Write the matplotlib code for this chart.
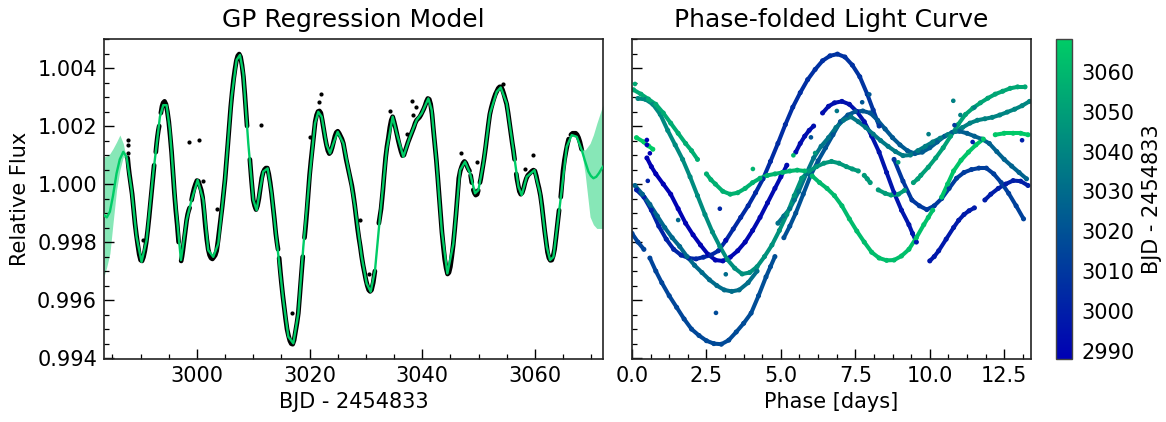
import numpy as np
import matplotlib
matplotlib.use("Agg")
import matplotlib.pyplot as plt
from matplotlib.collections import LineCollection
from matplotlib.colors import LinearSegmentedColormap, Normalize
from matplotlib.cm import ScalarMappable
from matplotlib.ticker import AutoMinorLocator, MultipleLocator, FormatStrFormatter

nan = float("nan")
GREEN = "#00cc66"
PERIOD = 13.4
T0 = 2987.2

gp_t = [2983.48, 2984.00, 2984.55, 2985.10, 2985.73, 2986.30, 2986.92, 2987.51, 2988.40, 2989.28, 2990.17, 2991.06, 2992.24,
        2993.43, 2994.02, 2994.61, 2995.20, 2996.09, 2997.16, 2998.17, 2999.05, 3000.12, 3001.13,
        3002.01, 3002.90, 3003.79, 3004.98, 3006.16, 3007.05, 3007.64, 3008.23, 3009.12, 3010.01,
        3010.60, 3011.19, 3011.78, 3012.55, 3013.26, 3014.15, 3015.34, 3016.23, 3017.11, 3018.00,
        3018.89, 3020.07, 3020.96, 3021.55, 3022.15, 3023.03, 3023.63, 3024.22, 3024.99, 3026.00,
        3027.18, 3028.07, 3029.25, 3030.14, 3030.85, 3031.62, 3032.50, 3033.69, 3034.75, 3035.47,
        3036.65, 3037.83, 3039.02, 3039.91, 3041.09, 3041.68, 3042.57, 3043.46, 3044.47, 3045.53,
        3046.72, 3047.60, 3048.49, 3049.38, 3049.97, 3050.86, 3052.04, 3053.23, 3053.94, 3055.00,
        3056.19, 3057.08, 3057.67, 3058.56, 3059.92, 3060.93, 3062.11, 3062.70, 3063.30, 3064.48,
        3065.66, 3066.55, 3067.44, 3068.33, 3068.90, 3069.51, 3069.95, 3070.40, 3070.90, 3071.40, 3071.88, 3072.10]
gp_f = [0.99893, 0.99885, 0.99905, 0.99960, 1.00037, 1.00085, 1.00111, 1.00094, 0.99979, 0.99818, 0.99732, 0.99807, 1.00037,
        1.00232, 1.00272, 1.00272, 1.00186, 0.99956, 0.99738, 0.99876, 0.99945, 1.00014, 0.99945,
        0.99772, 0.99749, 0.99795, 1.00014, 1.00301, 1.00428, 1.00445, 1.00382, 1.00140, 0.99945,
        0.99910, 0.99979, 1.00043, 1.00054, 0.99968, 0.99807, 0.99600, 0.99474, 0.99451, 0.99554,
        0.99784, 1.00037, 1.00209, 1.00249, 1.00232, 1.00134, 1.00106, 1.00140, 1.00180, 1.00140,
        1.00025, 0.99922, 0.99749, 0.99657, 0.99629, 0.99703, 0.99887, 1.00117, 1.00232, 1.00175,
        1.00094, 1.00163, 1.00221, 1.00244, 1.00295, 1.00255, 1.00071, 0.99841, 0.99692, 0.99795,
        1.00048, 1.00077, 1.00037, 0.99968, 0.99979, 1.00071, 1.00244, 1.00318, 1.00333, 1.00278,
        1.00117, 0.99991, 0.99962, 1.00025, 1.00048, 0.99968, 0.99784, 0.99738, 0.99749, 0.99933,
        1.00129, 1.00169, 1.00163, 1.00117, 1.00080, 1.00043, 1.00028, 1.00020, 1.00025, 1.00038, 1.00054, 1.00060]

band_left_t = [2983.48, 2984.00, 2984.55, 2985.10, 2985.73, 2986.32, 2986.92, 2987.40, 2988.10]
band_left_hi = [1.00094, 1.00097, 1.00105, 1.00122, 1.00145, 1.00169, 1.00140, 1.00095, 0.99990]
band_left_lo = [0.99680, 0.99715, 0.99761, 0.99865, 0.99979, 1.00048, 1.00094, 1.00085, 0.99975]
band_right_t = [3068.33, 3068.92, 3069.80, 3070.40, 3071.00, 3071.88, 3072.10]
band_right_hi = [1.00125, 1.00117, 1.00140, 1.00170, 1.00209, 1.00261, 1.00272]
band_right_lo = [1.00110, 1.00037, 0.99887, 0.99860, 0.99847, 0.99847, 0.99847]

obs_t = [2987.7, 2988.0, 2988.5, 2989.0, 2989.5, 2990.0, 2990.5, 2991.0, 2991.5, 2992.0,
         2992.4, 2992.55, 2992.7, 2993.0, 2993.3, 2993.45, 2993.6, 2994.0, 2994.5, 2995.0,
         2995.5, 2996.0, 2996.5, 2996.75, 2997.0, 2997.2, 2997.5, 2998.0, 2998.35, 2998.7,
         2998.9, 2999.05, 2999.5, 3000.0, 3000.5, 3001.0, 3001.5, 3002.0, 3002.5, 3003.0,
         3003.5, 3004.0, 3004.5, 3005.0, 3005.5, 3006.0, 3006.5, 3007.0, 3007.5, 3008.0,
         3008.5, 3008.9, 3009.15, 3009.4, 3010.0, 3010.5, 3011.0, 3011.5, 3012.0, 3012.5,
         3013.0, 3013.5, 3014.0, 3014.4, 3014.45, 3014.6, 3015.0, 3015.5, 3016.0, 3016.5,
         3017.0, 3017.5, 3018.0, 3018.5, 3018.8, 3018.95, 3019.1, 3019.5, 3020.0, 3020.5,
         3021.0, 3021.5, 3022.0, 3022.5, 3023.0, 3023.5, 3024.0, 3024.5, 3025.0, 3025.5,
         3026.0, 3026.5, 3027.0, 3027.5, 3028.0, 3028.5, 3029.0, 3029.5, 3030.0, 3030.5,
         3031.0, 3031.6, 3031.95, 3032.3, 3032.7, 3033.0, 3033.5, 3034.0, 3034.5, 3035.0,
         3035.5, 3036.0, 3036.5, 3037.0, 3037.5, 3038.0, 3038.5, 3039.0, 3039.5, 3040.0,
         3040.5, 3041.0, 3041.5, 3042.0, 3042.5, 3043.0, 3043.5, 3044.0, 3044.5, 3045.0,
         3045.5, 3046.0, 3046.5, 3047.0, 3047.5, 3048.0, 3048.4, 3048.5, 3048.6, 3048.8,
         3048.95, 3049.07, 3049.5, 3049.95, 3050.1, 3050.25, 3050.5, 3051.0, 3051.5, 3052.0,
         3052.5, 3053.0, 3053.5, 3054.0, 3054.5, 3055.0, 3055.5, 3056.0, 3056.4, 3056.55,
         3056.7, 3057.0, 3057.5, 3058.0, 3058.5, 3059.0, 3059.5, 3060.0, 3060.5, 3061.0,
         3061.5, 3062.0, 3062.5, 3063.0, 3063.5, 3064.0, 3064.3, 3064.45, 3064.6, 3065.0,
         3065.5, 3066.0, 3066.2, 3066.4, 3067.0, 3067.5, 3068.0, 3068.3]
obs_f = [1.00090, 1.00035, 0.99965, 0.99865, 0.99790, 0.99738, 0.99748, 0.99800, 0.99885, 0.99985,
         1.00065, nan, 1.00110, 1.00165, 1.00200, nan, 1.00245, 1.00280, 1.00275, 1.00215,
         1.00110, 0.99970, 0.99860, 0.99800, nan, 0.99735, 0.99770, 0.99850, 0.99895, 0.99918,
         nan, 0.99945, 0.99985, 1.00012, 0.99995, 0.99955, 0.99855, 0.99775, 0.99745, 0.99748,
         0.99770, 0.99845, 0.99925, 1.00018, 1.00140, 1.00265, 1.00360, 1.00425, 1.00448, 1.00410,
         1.00310, 1.00200, nan, 1.00085, 0.99945, 0.99912, 0.99950, 1.00020, 1.00050, 1.00055,
         1.00005, 0.99925, 0.99830, 0.99775, nan, 0.99745, 0.99660, 0.99575, 0.99500, 0.99460,
         0.99448, 0.99490, 0.99555, 0.99680, 0.99750, nan, 0.99815, 0.99900, 1.00030, 1.00125,
         1.00215, 1.00250, 1.00245, 1.00190, 1.00135, 1.00105, 1.00125, 1.00165, 1.00182, 1.00165,
         1.00140, 1.00085, 1.00040, 0.99995, 0.99930, 0.99850, 0.99785, 0.99720, 0.99670, 0.99635,
         0.99635, 0.99700, nan, 0.99865, 0.99915, 0.99975, 1.00090, 1.00160, 1.00220, 1.00215,
         1.00172, 1.00130, 1.00098, 1.00115, 1.00145, 1.00170, 1.00195, 1.00220, 1.00230, 1.00248,
         1.00270, 1.00295, 1.00275, 1.00185, 1.00085, 0.99960, 0.99835, 0.99740, 0.99690, 0.99715,
         0.99790, 0.99895, 1.00020, 1.00060, 1.00078, 1.00060, 1.00045, nan, 1.00030, 1.00005,
         nan, 0.99980, 0.99962, 0.99978, nan, 1.00005, 1.00030, 1.00090, 1.00165, 1.00240,
         1.00280, 1.00310, 1.00330, 1.00335, 1.00310, 1.00275, 1.00210, 1.00140, 1.00085, nan,
         1.00035, 1.00000, 0.99965, 0.99985, 1.00020, 1.00035, 1.00045, 1.00045, 1.00005, 0.99960,
         0.99880, 0.99800, 0.99745, 0.99738, 0.99775, 0.99860, 0.99910, nan, 0.99955, 1.00045,
         1.00110, 1.00155, nan, 1.00170, 1.00175, 1.00170, 1.00145, 1.00120]

mid_t = [2987.85, 2988.25, 2988.75, 2989.25, 2989.75, 2990.25, 2990.75, 2991.25, 2991.75, 2992.2,
         2992.85, 2993.15, 2993.8, 2994.25, 2994.75, 2995.25, 2995.75, 2996.25, 2996.62, 2997.35,
         2997.75, 2998.17, 2998.52, 2999.25, 2999.75, 3000.25, 3000.75, 3001.25, 3001.75, 3002.25,
         3002.75, 3003.25, 3003.75, 3004.25, 3004.75, 3005.25, 3005.75, 3006.25, 3006.75, 3007.25,
         3007.75, 3008.25, 3008.7, 3009.7, 3010.25, 3010.75, 3011.25, 3011.75, 3012.25, 3012.75,
         3013.25, 3013.75, 3014.2, 3014.8, 3015.25, 3015.75, 3016.25, 3016.75, 3017.25, 3017.75,
         3018.25, 3018.65, 3019.3, 3019.75, 3020.25, 3020.75, 3021.25, 3021.75, 3022.25, 3022.75,
         3023.25, 3023.75, 3024.25, 3024.75, 3025.25, 3025.75, 3026.25, 3026.75, 3027.25, 3027.75,
         3028.25, 3028.75, 3029.25, 3029.75, 3030.25, 3030.75, 3031.3, 3032.5, 3032.85, 3033.25,
         3033.75, 3034.25, 3034.75, 3035.25, 3035.75, 3036.25, 3036.75, 3037.25, 3037.75, 3038.25,
         3038.75, 3039.25, 3039.75, 3040.25, 3040.75, 3041.25, 3041.75, 3042.25, 3042.75, 3043.25,
         3043.75, 3044.25, 3044.75, 3045.25, 3045.75, 3046.25, 3046.75, 3047.25, 3047.75, 3048.2,
         3048.7, 3049.3, 3049.75, 3050.4, 3050.75, 3051.25, 3051.75, 3052.25, 3052.75, 3053.25,
         3053.75, 3054.25, 3054.75, 3055.25, 3055.75, 3056.2, 3056.85, 3057.25, 3057.75, 3058.25,
         3058.75, 3059.25, 3059.75, 3060.25, 3060.75, 3061.25, 3061.75, 3062.25, 3062.75, 3063.25,
         3063.75, 3064.15, 3064.8, 3065.25, 3065.75, 3066.7, 3067.25, 3067.75, 3068.15]
mid_f = [1.00060, 1.00000, 0.99915, 0.99825, 0.99758, 0.99735, 0.99770, 0.99840, 0.99935, 1.00025,
         1.00140, 1.00185, 1.00268, 1.00285, 1.00250, 1.00165, 1.00040, 0.99910, 0.99830, 0.99750,
         0.99810, 0.99875, 0.99908, 0.99965, 1.00000, 1.00010, 0.99980, 0.99910, 0.99810, 0.99755,
         0.99742, 0.99755, 0.99805, 0.99885, 0.99970, 1.00078, 1.00205, 1.00315, 1.00395, 1.00442,
         1.00438, 1.00370, 1.00255, 1.00010, 0.99925, 0.99925, 0.99985, 1.00040, 1.00055, 1.00035,
         0.99968, 0.99880, 0.99800, 0.99700, 0.99615, 0.99535, 0.99478, 0.99450, 0.99462, 0.99520,
         0.99615, 0.99715, 0.99855, 0.99965, 1.00080, 1.00170, 1.00238, 1.00252, 1.00220, 1.00160,
         1.00115, 1.00110, 1.00145, 1.00178, 1.00175, 1.00155, 1.00112, 1.00062, 1.00018, 0.99965,
         0.99890, 0.99815, 0.99750, 0.99695, 0.99650, 0.99630, 0.99660, 0.99890, 0.99945, 1.00035,
         1.00130, 1.00195, 1.00232, 1.00195, 1.00150, 1.00112, 1.00100, 1.00130, 1.00158, 1.00182,
         1.00210, 1.00225, 1.00238, 1.00258, 1.00285, 1.00292, 1.00240, 1.00135, 1.00025, 0.99895,
         0.99785, 0.99710, 0.99695, 0.99750, 0.99840, 0.99960, 1.00045, 1.00072, 1.00072, 1.00052,
         1.00018, 0.99968, 0.99965, 1.00018, 1.00058, 1.00125, 1.00205, 1.00262, 1.00296, 1.00320,
         1.00335, 1.00325, 1.00293, 1.00245, 1.00175, 1.00115, 1.00015, 0.99975, 0.99970, 1.00005,
         1.00030, 1.00040, 1.00048, 1.00028, 0.99985, 0.99925, 0.99838, 0.99765, 0.99737, 0.99752,
         0.99815, 0.99885, 1.00000, 1.00082, 1.00135, 1.00175, 1.00175, 1.00160, 1.00132]

out_t = [2987.7, 2987.7, 2987.8, 2998.64, 3000.3, 3001.13, 2990.35, 3003.55, 3011.43, 3016.82,
         3020.01, 3021.97, 3021.73, 3034.28, 3038.19, 3038.9, 3038.43, 3037.36, 3046.95, 3049.74,
         3058.26, 3059.62, 3028.95, 3030.55, 3054.3]
out_f = [1.00152, 1.00135, 1.00106, 1.00145, 1.00151, 1.00011, 0.99807, 0.99915, 1.00203, 0.99556,
         1.00161, 1.00309, 1.00282, 1.00252, 1.00287, 1.00264, 1.00238, 1.00172, 1.00107, 1.00075,
         1.00052, 1.00099, 0.99876, 0.99689, 1.00345]

all_t = np.array(obs_t + mid_t)
all_f = np.array(obs_f + mid_f)
order = np.argsort(all_t)
obs_t = all_t[order]
obs_f = all_f[order]
out_t = np.array(out_t); out_f = np.array(out_f)

cmap = LinearSegmentedColormap.from_list("bjd", ["#0000b4", GREEN])
norm = Normalize(vmin=2987.9, vmax=3068.3)

fig = plt.figure(figsize=(11.66, 4.22), dpi=100)
W, H = 1166.0, 422.0
def box(x0, x1, y0, y1):
    return [x0 / W, 1 - y1 / H, (x1 - x0) / W, (y1 - y0) / H]

ax1 = fig.add_axes(box(104, 603, 39, 359))
ax2 = fig.add_axes(box(632, 1031, 39, 359))
cax = fig.add_axes(box(1056, 1072, 39, 359))

# left panel
ax1.fill_between(band_left_t, band_left_lo, band_left_hi, color=GREEN, alpha=0.47, lw=0)
ax1.fill_between(band_right_t, band_right_lo, band_right_hi, color=GREEN, alpha=0.47, lw=0)
ax1.plot(obs_t, obs_f, color="k", lw=3.4, solid_capstyle="round", zorder=2)
ax1.scatter(out_t, out_f, s=9, color="k", lw=0, zorder=2)
ax1.plot(gp_t, gp_f, color=GREEN, lw=1.7, zorder=3)
ax1.set_xlim(2983.5, 3072.1)
ax1.set_ylim(0.99397, 1.00500)
ax1.xaxis.set_major_locator(MultipleLocator(20))
ax1.yaxis.set_major_locator(MultipleLocator(0.002))
ax1.yaxis.set_major_formatter(FormatStrFormatter("%.3f"))
ax1.set_title("GP Regression Model", fontsize=18, pad=9)
ax1.set_xlabel("BJD - 2454833", fontsize=15, labelpad=4)
ax1.set_ylabel("Relative Flux", fontsize=15, labelpad=5)

# right panel: folded observations, later points on top
phase = (obs_t - T0) % PERIOD
segs, seg_t = [], []
for i in range(len(obs_t) - 1):
    if np.isfinite(obs_f[i]) and np.isfinite(obs_f[i + 1]) and phase[i + 1] > phase[i]:
        segs.append([(phase[i], obs_f[i]), (phase[i + 1], obs_f[i + 1])])
        seg_t.append(0.5 * (obs_t[i] + obs_t[i + 1]))
lc = LineCollection(segs, colors=cmap(norm(seg_t)), linewidths=2.9, capstyle="round", zorder=2)
ax2.add_collection(lc)
ok = np.isfinite(obs_f)
ax2.scatter(phase[ok], obs_f[ok], c=obs_t[ok], cmap=cmap, norm=norm, s=13, lw=0, zorder=2.5)
ax2.scatter((out_t - T0) % PERIOD, out_f, c=out_t, cmap=cmap, norm=norm, s=11, lw=0, zorder=3)
ax2.set_xlim(0, PERIOD)
ax2.set_ylim(ax1.get_ylim())
ax2.xaxis.set_major_locator(MultipleLocator(2.5))
ax2.yaxis.set_major_locator(MultipleLocator(0.002))
ax2.tick_params(labelleft=False)
ax2.set_title("Phase-folded Light Curve", fontsize=18, pad=9)
ax2.set_xlabel("Phase [days]", fontsize=15, labelpad=4)

for ax in (ax1, ax2):
    ax.xaxis.set_minor_locator(AutoMinorLocator(4))
    ax.yaxis.set_minor_locator(AutoMinorLocator(4))
    ax.tick_params(which="major", direction="in", length=7.5, width=1.0, labelsize=15, pad=5)
    ax.tick_params(which="minor", direction="in", length=3.8, width=0.9)
    for s in ax.spines.values():
        s.set_linewidth(1.2)
        s.set_color("#222222")

# colour bar
cb = fig.colorbar(ScalarMappable(norm=norm, cmap=cmap), cax=cax)
cb.set_ticks([2990, 3000, 3010, 3020, 3030, 3040, 3050, 3060])
cb.ax.tick_params(length=0, labelsize=15, pad=7)
cb.outline.set_linewidth(1.0)
cb.outline.set_edgecolor("#444444")
cb.set_label("BJD - 2454833", fontsize=15, labelpad=5)

fig.savefig("out.png", dpi=100)
